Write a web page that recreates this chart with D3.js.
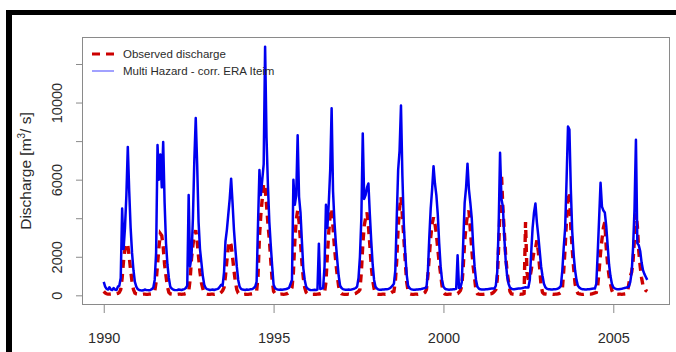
<!DOCTYPE html>
<html>
<head>
<meta charset="utf-8">
<script src="https://cdn.jsdelivr.net/npm/d3@7"></script>
<style>
  body { margin: 0; background: #fff; }
  svg { display: block; font-family: "Liberation Sans", Arial, sans-serif; }
</style>
</head>
<body>
<svg id="chart" width="676" height="352"></svg>
<script>
// ---- data: half-monthly discharge, 24 steps per year, 1990.0 .. 2006.0 ----
const startYear = 1990;
const stepsPerYear = 24;

// observed discharge [m3/s] (red dashed)
const observed = [
  200,120,80,60,60,70,60,50,60,80,100,150, 300,900,1800,2400,2700,2600,2000,1300,700,300,120,80,        // 1990
  70,60,50,50,60,60,50,50,60,70,80,120, 200,700,1600,2500,3200,3100,2500,1600,1000,450,150,80,          // 1991
  70,60,50,50,50,60,60,50,60,70,90,120, 200,800,1900,2600,3100,3380,2800,2000,1200,650,350,120,         // 1992
  80,60,50,50,60,60,50,60,60,70,90,150, 250,400,1000,1800,2500,2800,2600,2000,1300,700,300,120,         // 1993
  80,60,50,50,60,50,50,60,70,80,100,130, 200,1000,3000,4200,5000,5800,5600,4700,3700,2900,1800,800,     // 1994
  200,100,60,50,50,60,60,50,60,80,100,150, 250,400,1200,2800,3900,4400,3800,2800,1700,900,400,150,      // 1995
  80,60,50,50,50,60,50,60,70,80,100,120, 150,700,2100,3300,4200,4500,3500,2500,1700,1000,450,150,       // 1996
  80,60,50,50,50,60,50,60,60,80,100,150, 200,300,1200,2600,3600,4000,4300,3600,2600,1500,800,350,       // 1997
  100,60,50,50,50,60,60,50,60,80,100,130, 180,200,700,1800,3500,4500,5100,4100,3000,1800,700,250,       // 1998
  80,60,50,50,60,60,50,60,60,80,100,150, 300,1000,2000,3000,3700,4050,3700,3200,2400,1700,1100,500,     // 1999
  150,70,50,50,60,60,50,60,60,70,90,150, 250,500,1500,2800,3600,4200,4400,3400,2400,1500,900,250,       // 2000
  80,60,50,50,50,60,50,60,60,80,90,130, 200,300,800,2500,4500,6300,4500,3300,2000,1200,700,200,         // 2001
  80,60,50,50,60,60,50,60,70,100,3800,1200, 800,900,1300,1800,2300,2400,2850,2300,1400,500,150,80,      // 2002
  70,60,50,50,60,60,50,60,60,80,100,150, 300,1300,2500,4000,5000,5360,3500,2400,1400,600,250,100,       // 2003
  80,60,50,50,60,60,50,60,60,80,100,120, 150,500,1300,2200,2900,3500,3800,2500,1600,1000,600,250,       // 2004
  100,60,50,50,60,60,50,60,70,80,150,600, 1000,1200,1800,3000,4250,3600,2300,1500,900,500,400,250,      // 2005
  200                                                                                                   // 2006.0
];

// simulated discharge, Multi Hazard - corr. ERA Interim (blue)
const simulated = [
  700,450,330,300,420,300,280,380,300,280,450,500, 900,4500,2400,3500,5200,7700,5400,3500,2200,1300,700,450,      // 1990
  320,280,260,250,260,300,280,270,260,280,320,400, 800,2200,7800,6000,7300,5600,7950,4800,2700,1600,900,450,      // 1991
  350,300,280,270,280,300,290,280,300,320,380,500, 5200,1500,2000,4000,7000,9200,6800,3800,2400,1700,1000,550,    // 1992
  380,320,300,280,290,300,280,300,320,350,450,550, 500,1200,2800,3400,4200,5000,6050,4800,3400,2400,1500,800,     // 1993
  450,330,300,290,280,300,290,300,320,330,380,450, 700,3700,6500,5200,6000,6800,12900,8200,5700,3800,2600,1500,   // 1994
  550,380,320,300,290,300,290,300,310,330,350,400, 600,800,6000,4700,5200,8300,5100,4300,2800,1400,800,450,       // 1995
  350,300,280,270,280,290,280,300,2680,330,350,380, 1500,4700,3500,4800,6500,9700,5400,3800,2700,1800,1000,500,   // 1996
  380,320,300,290,290,300,290,300,320,340,380,450, 900,2000,4000,8400,5000,5200,5600,5800,4200,2800,1600,800,     // 1997
  450,350,300,290,290,300,300,310,320,330,360,420, 500,600,1300,4000,6500,7500,9850,6200,3700,2200,1100,500,      // 1998
  380,320,300,290,290,300,300,310,320,340,360,380, 400,1200,3000,4500,5500,6700,5800,5200,4200,2700,1500,800,     // 1999
  450,350,310,300,290,300,300,310,320,340,2080,380, 400,700,2800,4800,5600,6830,5500,4800,4000,2600,1500,800,     // 2000
  450,350,310,300,300,300,310,320,330,340,350,350, 350,500,1200,3500,7400,5000,4600,3000,1800,1000,600,400,       // 2001
  350,320,320,330,340,350,350,360,380,400,420,400, 400,800,2200,3500,4300,4760,3800,3100,2300,1500,1000,600,      // 2002
  420,350,320,310,300,300,310,320,330,350,400,500, 1300,2500,3500,6000,8760,8600,5500,3300,2100,1300,800,500,     // 2003
  400,350,320,310,300,300,310,320,330,340,350,350, 600,2200,4000,5840,4600,4400,4300,3600,2600,1600,1000,600,     // 2004
  420,360,330,320,320,330,340,360,380,400,420,450, 700,1200,2500,4500,8070,2700,2600,2300,1700,1300,1100,950,     // 2005
  800                                                                                                             // 2006.0
];

const xTickValues = [1990, 1995, 2000, 2005];
const yTickValues = [0, 2000, 4000, 6000, 8000, 10000, 12000];
const yTickLabels = [0, 2000, 6000, 10000];   // R drops the crowded ones
const legendLabels = ['Observed discharge', 'Multi Hazard - corr. ERA Iteim'];

// ---- layout ----
const svg = d3.select('#chart');
const box = { left: 82, right: 669, top: 37, bottom: 304 };
const axisGrey = '#8a8a8a';
const textCol = '#2b2b2b';
const redCol = '#cc0000';
const blueCol = '#0000f0';

// frame bars of the screenshot
svg.append('rect').attr('x', 6).attr('y', 10).attr('width', 670).attr('height', 5).attr('fill', '#000');
svg.append('rect').attr('x', 6).attr('y', 10).attr('width', 6).attr('height', 342).attr('fill', '#000');

const x = d3.scaleLinear().domain([1989.36, 2006.64]).range([box.left, box.right]);
const y = d3.scaleLinear().domain([-450, 13400]).range([box.bottom, box.top]);

const tOf = i => startYear + i / stepsPerYear;
const line = d3.line()
  .x((d, i) => x(tOf(i)))
  .y(d => y(d));

// observed first, simulated on top
svg.append('path')
  .datum(observed)
  .attr('d', line)
  .attr('fill', 'none')
  .attr('stroke', redCol)
  .attr('stroke-width', 3.4)
  .attr('stroke-dasharray', '8,6');

svg.append('path')
  .datum(simulated)
  .attr('d', line)
  .attr('fill', 'none')
  .attr('stroke', blueCol)
  .attr('stroke-width', 2.5)
  .attr('stroke-linejoin', 'round');

// plot box
svg.append('rect')
  .attr('x', box.left + 0.5).attr('y', box.top + 0.5)
  .attr('width', box.right - box.left).attr('height', box.bottom - box.top)
  .attr('fill', 'none').attr('stroke', axisGrey);

// y axis
const yAxis = svg.append('g')
  .attr('transform', `translate(${box.left},0)`)
  .call(d3.axisLeft(y).tickValues(yTickValues).tickSize(6)
    .tickFormat(d => yTickLabels.includes(d) ? String(d) : ''));
yAxis.select('.domain').remove();
yAxis.selectAll('line').attr('stroke', axisGrey);
yAxis.selectAll('text')
  .attr('x', null).attr('dy', null)
  .attr('text-anchor', 'middle')
  .attr('transform', 'translate(-20,0) rotate(-90)')
  .attr('fill', textCol)
  .style('font-size', '14.5px')
  .style('font-family', '"Liberation Sans", Arial, sans-serif');

// x axis
const xAxis = svg.append('g')
  .attr('transform', `translate(0,${box.bottom + 1})`)
  .call(d3.axisBottom(x).tickValues(xTickValues).tickSize(8).tickFormat(d3.format('d')));
xAxis.select('.domain').remove();
xAxis.selectAll('line').attr('stroke', axisGrey);
xAxis.selectAll('text')
  .attr('y', 38).attr('dy', null)
  .attr('fill', textCol)
  .style('font-size', '14.5px')
  .style('font-family', '"Liberation Sans", Arial, sans-serif');

// y title
const yTitle = svg.append('text')
  .attr('transform', 'translate(31,171) rotate(-90)')
  .attr('text-anchor', 'middle')
  .attr('fill', textCol)
  .style('font-size', '15.5px');
yTitle.append('tspan').text('Discharge [m');
yTitle.append('tspan').attr('dy', -6).style('font-size', '10px').text('3');
yTitle.append('tspan').attr('dy', 6).text('/ s]');

// legend (no box)
const legend = svg.append('g');
const legendRows = [
  { label: legendLabels[0], color: redCol, width: 3, dash: '8,6', yPos: 54 },
  { label: legendLabels[1], color: '#6f6fff', width: 1.3, dash: null, yPos: 71 }
];
legendRows.forEach(r => {
  legend.append('line')
    .attr('x1', 92).attr('x2', 114).attr('y1', r.yPos).attr('y2', r.yPos)
    .attr('stroke', r.color).attr('stroke-width', r.width)
    .attr('stroke-dasharray', r.dash);
  legend.append('text')
    .attr('x', 123).attr('y', r.yPos + 4)
    .attr('fill', textCol)
    .style('font-size', '11.5px')
    .text(r.label);
});
</script>
</body>
</html>
